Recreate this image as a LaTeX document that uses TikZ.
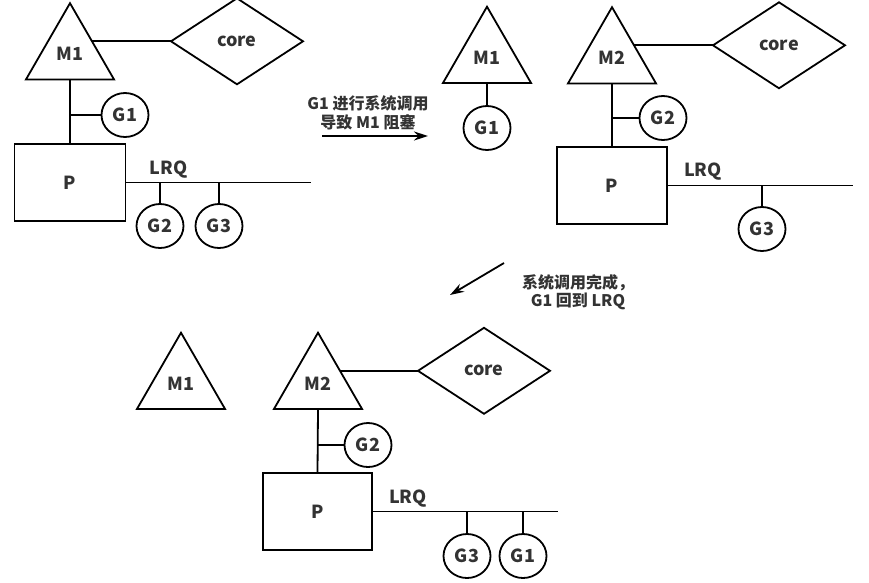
\documentclass[tikz,border=0pt]{standalone}
\usepackage{fontspec}
\setmainfont{Noto Sans CJK SC}
\usepackage{tikz}
\usetikzlibrary{shapes.geometric,arrows.meta}

\begin{document}
\begin{tikzpicture}[x=1pt,y=-1pt,line width=1.8pt,
		every node/.style={text=black!80,font=\fontsize{18}{20}\selectfont\bfseries},
		thread/.style={draw,regular polygon,regular polygon sides=3,minimum size=101.6pt,inner sep=0pt,outer sep=0pt},
		cpu/.style={draw,diamond,minimum width=132pt,minimum height=86pt,inner sep=0pt,outer sep=0pt,anchor=west},
		gor/.style={draw,ellipse,minimum width=47pt,minimum height=44pt,inner sep=0pt,outer sep=0pt},
		proc/.style={draw,rectangle,minimum width=111pt,minimum height=77pt,inner sep=0pt,outer sep=0pt},
		notiz/.style={align=center,font=\fontsize{16}{18.5}\selectfont\bfseries},
		pfeil/.style={-{Stealth[length=14pt,width=9pt]}}]
				\useasboundingbox (0,0) rectangle (869,582);
				
				% Zustand 1: M1 fuehrt G1 aus, G2 und G3 in der LRQ
				\node[thread] (M1a) at (70,54) {M1};
				\node[cpu] (core1) at ([xshift=79pt]M1a.side 3) {core};
				\node[gor] (G1a) at (125,115) {G1};
				\node[proc] (P1) at (70,182.5) {P};
				\draw (M1a.side 3) -- (core1.west);
				\draw (M1a.side 2) -- (P1.north);
				\draw (G1a.west) -- (G1a.west -| P1.north);
				\coordinate (Q1) at ([xshift=185pt]P1.east);
				\draw (P1.east) -- (Q1);
				\node (lrq1) at ([xshift=43pt,yshift=13pt]P1.east) {LRQ};
				\node[gor] (G2a) at (160,226) {G2};
				\node[gor] (G3a) at (219,226) {G3};
				\foreach \g in {G2a,G3a}
				\draw (\g.north) -- (\g.north |- P1.east);
				
				% Pfeil 1: Systemaufruf
				\node[notiz] (txt1) at (368,113) {G1 进行系统调用\\导致 M1 阻塞};
				\coordinate (a1s) at (322,136);
				\coordinate (a1e) at (428,136);
				\draw[pfeil] (a1s) -- (a1e);
				
				% Zustand 2: M1 blockiert mit G1, P wechselt zu M2
				\node[thread] (M1b) at (487,57.5) {M1};
				\node[gor] (G1b) at (487,128) {G1};
				\draw (M1b.side 2) -- (G1b.north);
				
				\node[thread] (M2a) at (612,58) {M2};
				\node[cpu] (core2) at ([xshift=79pt]M2a.side 3) {core};
				\node[gor] (G2b) at (663,118) {G2};
				\node[proc,minimum width=110pt] (P2) at (612,185.5) {P};
				\draw (M2a.side 3) -- (core2.west);
				\draw (M2a.side 2) -- (P2.north);
				\draw (G2b.west) -- (G2b.west -| P2.north);
				\coordinate (Q2) at ([xshift=186pt]P2.east);
				\draw (P2.east) -- (Q2);
				\node (lrq2) at ([xshift=36pt,yshift=14pt]P2.east) {LRQ};
				\node[gor] (G3b) at (762,229) {G3};
				\draw (G3b.north) -- (G3b.north |- P2.east);
				
				% Pfeil 2: Systemaufruf fertig
				\node[notiz] (txt2) at (578,292) {系统调用完成，\\G1 回到 LRQ};
				\coordinate (a2s) at (504,263);
				\coordinate (a2e) at (450,295);
				\draw[pfeil] (a2s) -- (a2e);
				
				% Zustand 3: G1 zurueck in der LRQ, M1 frei
				\node[thread] (M1c) at (181,383.5) {M1};
				\node[thread] (M2b) at (318,383.5) {M2};
				\node[cpu] (core3) at ([xshift=78pt]M2b.side 3) {core};
				\node[gor] (G2c) at (368,445) {G2};
				\node[proc,minimum width=109pt] (P3) at (317.5,511.5) {P};
				\draw (M2b.side 3) -- (core3.west);
				\draw (M2b.side 2) -- (P3.north);
				\draw (G2c.west) -- (G2c.west -| P3.north);
				\coordinate (Q3) at ([xshift=186pt]P3.east);
				\draw (P3.east) -- (Q3);
				\node (lrq3) at ([xshift=36pt,yshift=13pt]P3.east) {LRQ};
				\node[gor] (G3c) at (467,556) {G3};
				\node[gor] (G1c) at (523,556) {G1};
				\foreach \g in {G3c,G1c}
				\draw (\g.north) -- (\g.north |- P3.east);
				
\end{tikzpicture}
\end{document}
